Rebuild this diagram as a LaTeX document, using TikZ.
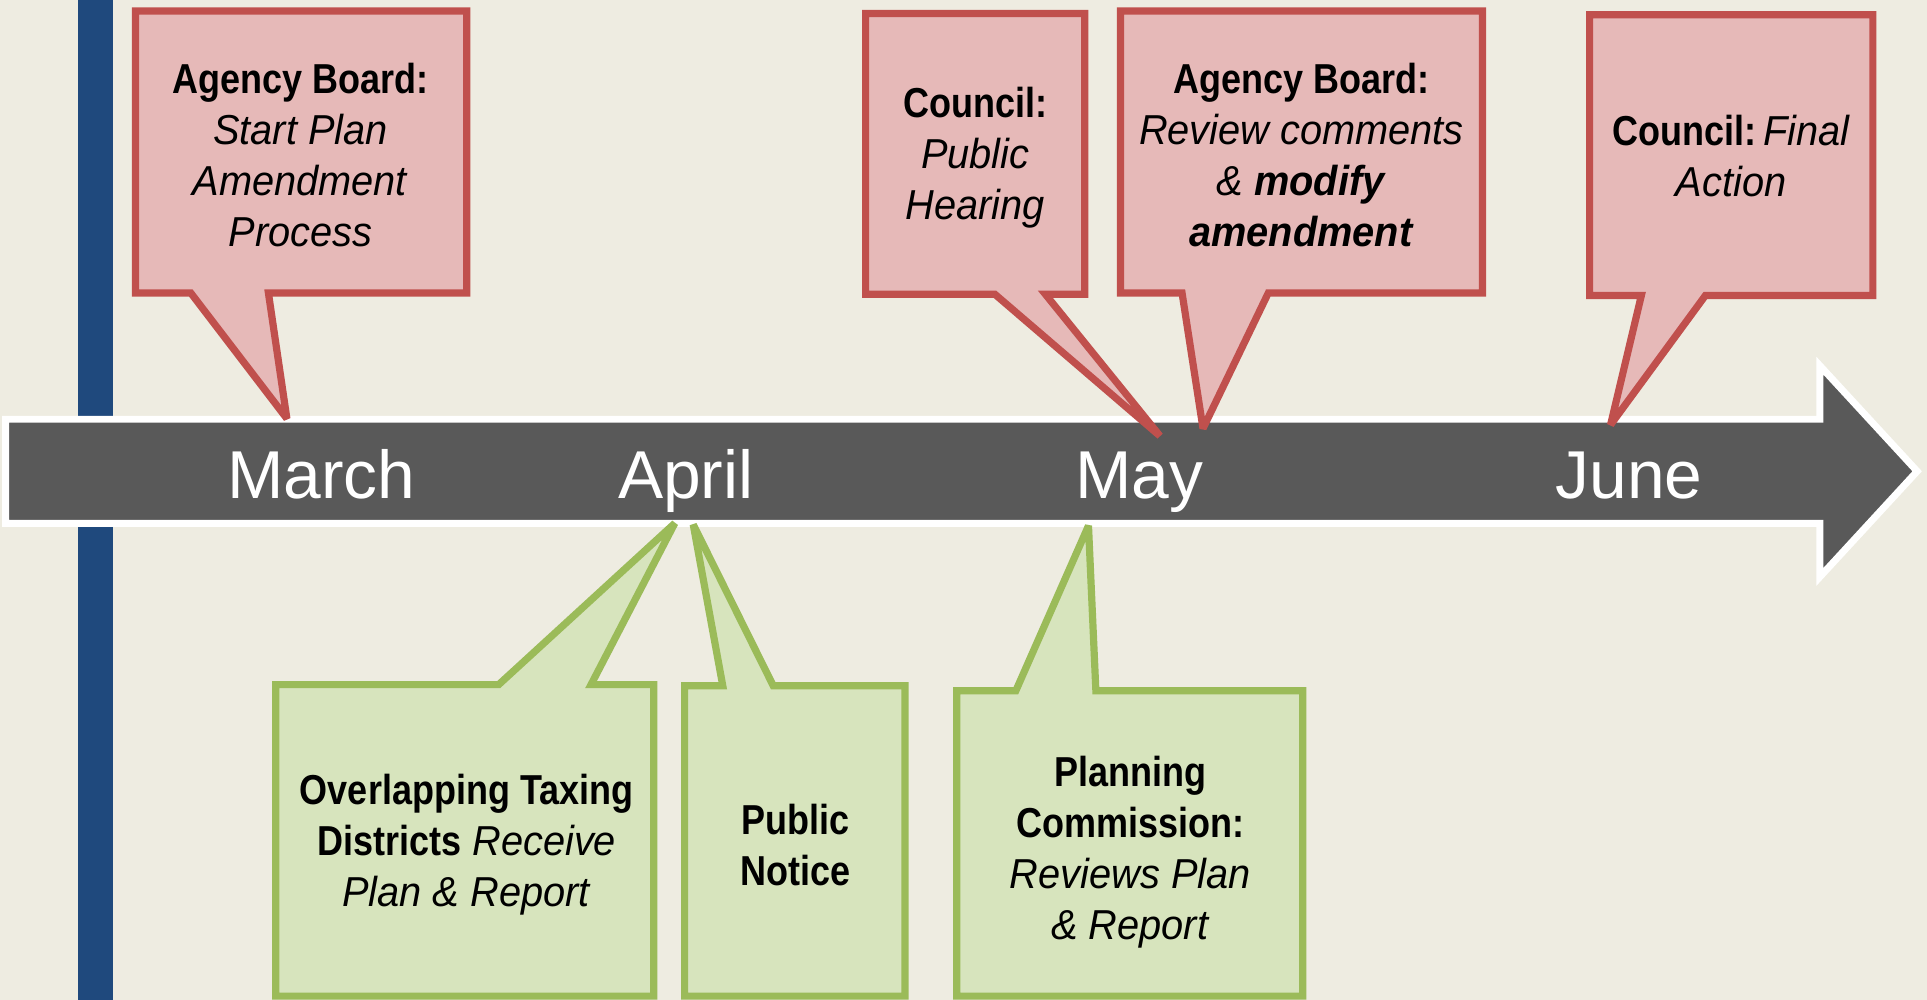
\documentclass[tikz,border=0pt]{standalone}
\usepackage{fontspec}
\setmainfont{Liberation Sans}[FakeStretch=0.95]
\newfontfamily\bcondfont{Liberation Sans}[FakeStretch=0.86]
\newfontfamily\monthfont{Liberation Sans}
\newcommand\bc[1]{{\bcondfont\bfseries #1}}
\definecolor{bgc}{HTML}{EEECE1}
\definecolor{barblue}{HTML}{1F497D}
\definecolor{arrowgray}{HTML}{595959}
\definecolor{rline}{HTML}{C0504D}
\definecolor{rfill}{HTML}{E6B9B8}
\definecolor{gline}{HTML}{9BBB59}
\definecolor{gfill}{HTML}{D7E4BD}
\tikzset{
  redcall/.style={draw=rline, fill=rfill, line width=3.5pt, line join=miter, miter limit=3},
  greencall/.style={draw=gline, fill=gfill, line width=3.5pt, line join=miter, miter limit=3},
  calltext/.style={align=center, inner sep=0pt, font=\fontsize{20.4}{24.8}\selectfont},
  month/.style={anchor=base, text=white, inner sep=0pt, font=\monthfont\fontsize{33}{38}\selectfont},
  timeline/.style={fill=arrowgray, draw=white, line width=3.4pt, line join=miter}
}
\begin{document}
\begin{tikzpicture}[x=0.6pt,y=-0.6pt]
\useasboundingbox (0,0) rectangle (1565,812.1);
\fill[bgc] (0,0) rectangle (1565,812.1);
\fill[barblue] (63,0) rectangle (92,812.1);
% timeline arrow
\draw[timeline] (4.6,340.5) -- (1478,340.5) -- (1478,297) -- (1557,382.75) -- (1478,468.5) -- (1478,425) -- (4.6,425) -- cycle;
\node[month] (march) at (261,405) {March};
\node[month] (april) at (557,405) {April};
\node[month] (may) at (925,405) {May};
\node[month] (june) at (1323,405) {June};
% red callouts
\draw[redcall] (110,9) -- (379,9) -- (379,238) -- (218,238) -- (233,340) -- (155,238) -- (110,238) -- cycle;
\draw[redcall] (703,11) -- (881,11) -- (881,239) -- (849,239) -- (942,354) -- (808,239) -- (703,239) -- cycle;
\draw[redcall] (910,9) -- (1204,9) -- (1204,238) -- (1030,238) -- (977,348) -- (960,238) -- (910,238) -- cycle;
\draw[redcall] (1291,12) -- (1521,12) -- (1521,240) -- (1385,240) -- (1308,345) -- (1333,240) -- (1291,240) -- cycle;
% green callouts
\draw[greencall] (224,556) -- (405,556) -- (548,425) -- (480,556) -- (531,556) -- (531,809) -- (224,809) -- cycle;
\draw[greencall] (556,557) -- (587,557) -- (563,426) -- (628,557) -- (735,557) -- (735,809) -- (556,809) -- cycle;
\draw[greencall] (777,561) -- (825,561) -- (884,427) -- (890,561) -- (1058,561) -- (1058,809) -- (777,809) -- cycle;
% texts
\node[calltext] (t1) at (244,126) {\bc{Agency Board:}\\ \textit{Start Plan}\\ \textit{Amendment}\\ \textit{Process}};
\node[calltext] (t2) at (792,128) {\bc{Council:}\\ \textit{Public}\\ \textit{Hearing}};
\node[calltext] (t3) at (1057,126) {\bc{Agency Board:}\\ \textit{Review comments}\\ \textit{\& \textbf{modify}}\\ \textbf{\textit{amendment}}};
\node[calltext] (t4) at (1406,127) {\bc{Council:}\,\textit{Final}\\ \textit{Action}};
\node[calltext] (g1) at (379,686) {\bc{Overlapping Taxing}\\ \bc{Districts} \textit{Receive}\\ \textit{Plan \& Report}};
\node[calltext] (g2) at (646,686) {\bc{Public}\\ \bc{Notice}};
\node[calltext] (g3) at (918,692) {\bc{Planning}\\ \bc{Commission:}\\ \textit{Reviews Plan}\\ \textit{\& Report}};
\end{tikzpicture}
\end{document}
